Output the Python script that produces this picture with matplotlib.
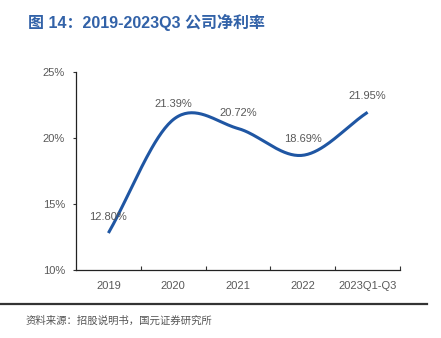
import numpy as np
import matplotlib
matplotlib.use("Agg")
import matplotlib.pyplot as plt
from matplotlib.lines import Line2D

categories = ["2019", "2020", "2021", "2022", "2023Q1-Q3"]
net_margin = [12.80, 21.39, 20.72, 18.69, 21.95]
labels = ["12.80%", "21.39%", "20.72%", "18.69%", "21.95%"]
yticks = [10, 15, 20, 25]
ytick_labels = ["10%", "15%", "20%", "25%"]

title = "图 14：2019-2023Q3 公司净利率"
source = "资料来源：招股说明书，国元证券研究所"

plt.rcParams['font.family'] = ['Liberation Sans', 'Noto Sans CJK SC', 'DejaVu Sans']

fig = plt.figure(figsize=(4.41, 3.38), dpi=100)
ax = fig.add_axes([76/441, 1-270/338, 324/441, 198/338])

# Catmull-Rom smoothing through the data points
x = np.arange(len(net_margin), dtype=float)
y = np.array(net_margin, dtype=float)
px = np.concatenate([[2*x[0]-x[1]], x, [2*x[-1]-x[-2]]])
py = np.concatenate([[2*y[0]-y[1]], y, [2*y[-1]-y[-2]]])
xs, ys = [], []
t = np.linspace(0, 1, 40)
for i in range(1, len(px)-2):
    p0, p1, p2, p3 = py[i-1], py[i], py[i+1], py[i+2]
    q0, q1, q2, q3 = px[i-1], px[i], px[i+1], px[i+2]
    f = lambda a0, a1, a2, a3: 0.5*((2*a1) + (-a0+a2)*t + (2*a0-5*a1+4*a2-a3)*t**2 + (-a0+3*a1-3*a2+a3)*t**3)
    xs.append(f(q0, q1, q2, q3))
    ys.append(f(p0, p1, p2, p3))
xs = np.concatenate(xs)
ys = np.concatenate(ys)
ax.plot(xs, ys, color="#1F56A3", lw=2.2, solid_capstyle="butt")

for xi, yi, lab in zip(x, y, labels):
    ax.annotate(lab, (xi, yi), xytext=(0, 11.5), textcoords="offset points",
                ha="center", va="center", fontsize=8, color="#595959")

ax.set_xlim(-0.5, len(categories)-0.5)
ax.set_ylim(10, 25)
ax.set_yticks(yticks)
ax.set_yticklabels(ytick_labels)
ax.set_xticks(x)
ax.set_xticklabels(categories)
ax.set_xticks(np.arange(0.5, len(categories), 1.0), minor=True)
ax.tick_params(axis="x", which="major", length=0, pad=8, labelsize=8, labelcolor="#595959")
ax.tick_params(axis="x", which="minor", length=3, direction="in", width=0.8, color="#333333")
ax.tick_params(axis="y", length=2, width=0.8, pad=6, labelsize=8, labelcolor="#595959", color="#333333")
for s in ["top", "right"]:
    ax.spines[s].set_visible(False)
for s in ["left", "bottom"]:
    ax.spines[s].set_linewidth(0.9)
    ax.spines[s].set_color("#222222")

fig.text(28/441, 1-22/338, title, fontsize=11.5, fontweight="bold", color="#3262A8",
         ha="left", va="center")
fig.add_artist(Line2D([0, 427/441], [1-304/338, 1-304/338], color="#333333", lw=1.6,
                      transform=fig.transFigure))
fig.text(26/441, 1-321/338, source, fontsize=7.5, color="#555555", ha="left", va="center")

fig.savefig("out.png", dpi=100)
